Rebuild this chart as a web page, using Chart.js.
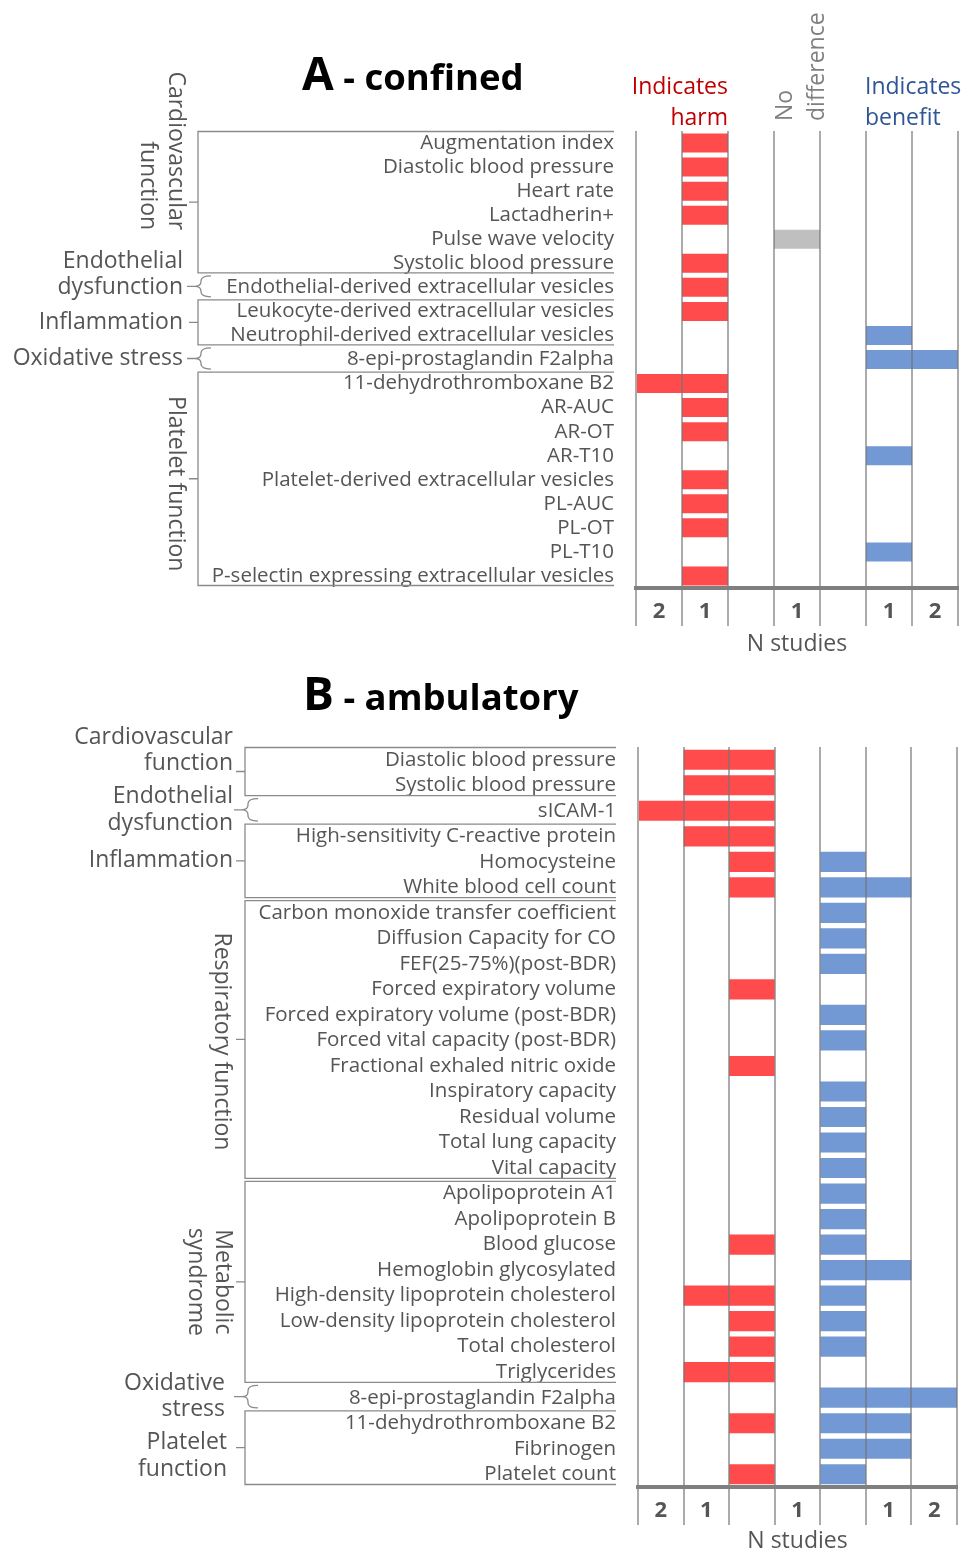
<!DOCTYPE html>
<html>
<head>
<meta charset="utf-8">
<script src="https://cdn.jsdelivr.net/npm/chart.js@4.4.0/dist/chart.umd.min.js"></script>
<style>
  html, body { margin: 0; padding: 0; background: #fff; }
  #wrap { position: relative; width: 965px; height: 1555px; }
  canvas { position: absolute; left: 0; }
</style>
</head>
<body>
<div id="wrap">
  <canvas id="chartA" width="965" height="660" style="top:0"></canvas>
  <canvas id="chartB" width="965" height="895" style="top:660px"></canvas>
</div>
<script>
// ---- data: A - confined ----
const markersA = ['Augmentation index', 'Diastolic blood pressure', 'Heart rate', 'Lactadherin+',
  'Pulse wave velocity', 'Systolic blood pressure', 'Endothelial-derived extracellular vesicles',
  'Leukocyte-derived extracellular vesicles', 'Neutrophil-derived extracellular vesicles',
  '8-epi-prostaglandin F2alpha', '11-dehydrothromboxane B2', 'AR-AUC', 'AR-OT', 'AR-T10',
  'Platelet-derived extracellular vesicles', 'PL-AUC', 'PL-OT', 'PL-T10',
  'P-selectin expressing extracellular vesicles'];
const harmA    = [1, 1, 1, 1, 0, 1, 1, 1, 0, 0, 2, 1, 1, 0, 1, 1, 1, 0, 1];
const noDiffA  = [0, 0, 0, 0, 1, 0, 0, 0, 0, 0, 0, 0, 0, 0, 0, 0, 0, 0, 0];
const benefitA = [0, 0, 0, 0, 0, 0, 0, 0, 1, 2, 0, 0, 0, 1, 0, 0, 0, 1, 0];
const groupsA = [
  { name: ['Cardiovascular', 'function'], rows: [0, 5] },
  { name: ['Endothelial', 'dysfunction'], rows: [6, 6] },
  { name: ['Inflammation'], rows: [7, 8] },
  { name: ['Oxidative stress'], rows: [9, 9] },
  { name: ['Platelet function'], rows: [10, 18] },
];

// ---- data: B - ambulatory ----
const markersB = ['Diastolic blood pressure', 'Systolic blood pressure', 'sICAM-1',
  'High-sensitivity C-reactive protein', 'Homocysteine', 'White blood cell count',
  'Carbon monoxide transfer coefficient', 'Diffusion Capacity for CO', 'FEF(25-75%)(post-BDR)',
  'Forced expiratory volume', 'Forced expiratory volume (post-BDR)', 'Forced vital capacity (post-BDR)',
  'Fractional exhaled nitric oxide', 'Inspiratory capacity', 'Residual volume', 'Total lung capacity',
  'Vital capacity', 'Apolipoprotein A1', 'Apolipoprotein B', 'Blood glucose', 'Hemoglobin glycosylated',
  'High-density lipoprotein cholesterol', 'Low-density lipoprotein cholesterol', 'Total cholesterol',
  'Triglycerides', '8-epi-prostaglandin F2alpha', '11-dehydrothromboxane B2', 'Fibrinogen', 'Platelet count'];
const harmB    = [2, 2, 3, 2, 1, 1, 0, 0, 0, 1, 0, 0, 1, 0, 0, 0, 0, 0, 0, 1, 0, 2, 1, 1, 2, 0, 1, 0, 1];
const noDiffB  = [0, 0, 0, 0, 0, 0, 0, 0, 0, 0, 0, 0, 0, 0, 0, 0, 0, 0, 0, 0, 0, 0, 0, 0, 0, 0, 0, 0, 0];
const benefitB = [0, 0, 0, 0, 1, 2, 1, 1, 1, 0, 1, 1, 0, 1, 1, 1, 1, 1, 1, 1, 2, 1, 1, 1, 0, 3, 2, 2, 1];
const groupsB = [
  { name: ['Cardiovascular', 'function'], rows: [0, 1] },
  { name: ['Endothelial', 'dysfunction'], rows: [2, 2] },
  { name: ['Inflammation'], rows: [3, 5] },
  { name: ['Respiratory function'], rows: [6, 16] },
  { name: ['Metabolic', 'syndrome'], rows: [17, 24] },
  { name: ['Oxidative', 'stress'], rows: [25, 25] },
  { name: ['Platelet', 'function'], rows: [26, 28] },
];

const nStudyTicks = ['2', '1', '', '1', '', '1', '2'];
const headerHarm = ['Indicates', 'harm'];
const headerNoDiff = ['No', 'difference'];
const headerBenefit = ['Indicates', 'benefit'];

// ---- styles ----
const FONT = "'Open Sans', sans-serif";
const TEXT = '#555555';
const LINE = '#8a8a8a';
const RED = '#ff4b4b';
const BLUE = '#7399d4';
const GREY = '#bfbfbf';
const LABEL_SIZE = 20.5;
const GROUP_SIZE = 23;

function buildDatasets(harm, noDiff, benefit, pos) {
  const common = { grouped: false, barPercentage: 0.79, categoryPercentage: 1, borderWidth: 0 };
  return [
    { label: 'Indicates harm', backgroundColor: RED, ...common,
      data: harm.map(n => n ? [pos.harmEnd - n, pos.harmEnd] : null) },
    { label: 'No difference', backgroundColor: GREY, ...common,
      data: noDiff.map(n => n ? [pos.noDiffStart, pos.noDiffStart + n] : null) },
    { label: 'Indicates benefit', backgroundColor: BLUE, ...common,
      data: benefit.map(n => n ? [pos.benefitStart, pos.benefitStart + n] : null) },
  ];
}

function drawGroups(ctx, y, groups, lay) {
  const step = y.getPixelForValue(1) - y.getPixelForValue(0);
  const boxRight = y.right - 22;
  const L = lay.boxLeft;
  ctx.save();
  ctx.strokeStyle = LINE;
  ctx.lineWidth = 1.3;
  groups.forEach((g, i) => {
    const top = y.getPixelForValue(g.rows[0]) - step / 2 + 0.5;
    const bot = y.getPixelForValue(g.rows[1]) + step / 2 - 2.5;
    const mid = (top + bot) / 2;
    ctx.beginPath();
    if (g.rows[0] === g.rows[1]) {
      // curly brace for single-row groups
      const xm = L + 3, xr = L + 13, r = 5;
      ctx.moveTo(xr, top);
      ctx.quadraticCurveTo(xm, top, xm, top + r);
      ctx.lineTo(xm, mid - r);
      ctx.quadraticCurveTo(xm, mid, L - 3, mid);
      ctx.quadraticCurveTo(xm, mid, xm, mid + r);
      ctx.lineTo(xm, bot - r);
      ctx.quadraticCurveTo(xm, bot, xr, bot);
      ctx.moveTo(L - 3, mid);
      ctx.lineTo(L - 11, mid);
    } else {
      ctx.moveTo(boxRight, top);
      ctx.lineTo(L, top);
      ctx.lineTo(L, bot);
      ctx.lineTo(boxRight, bot);
      ctx.moveTo(L, mid);
      ctx.lineTo(L - 9, mid);
    }
    ctx.stroke();

    const o = lay.labels[i] || {};
    ctx.fillStyle = TEXT;
    ctx.font = `${GROUP_SIZE}px ${FONT}`;
    ctx.textBaseline = 'middle';
    if (o.rotate) {
      o.xs.forEach((lx, k) => {
        ctx.save();
        ctx.translate(lx, mid + (o.dy || 0));
        ctx.rotate(Math.PI / 2);
        ctx.textAlign = o.align || 'center';
        ctx.fillText(g.name[k], 0, 0);
        ctx.restore();
      });
    } else {
      ctx.textAlign = 'right';
      const n = g.name.length;
      g.name.forEach((t, k) => {
        ctx.fillText(t, L - lay.gap + (o.dx || 0), mid + (o.dy || 0) + (k - (n - 1) / 2) * 26.5);
      });
    }
  });
  ctx.restore();
}

function drawTitle(ctx, letter, rest, x, base) {
  ctx.save();
  ctx.fillStyle = '#000';
  ctx.textBaseline = 'alphabetic';
  ctx.textAlign = 'left';
  ctx.font = `bold 46px ${FONT}`;
  ctx.fillText(letter, x, base);
  const w = ctx.measureText(letter).width;
  ctx.font = `bold 36.5px ${FONT}`;
  ctx.fillText(rest, x + w, base);
  ctx.restore();
}

function decorPlugin(groups, lay, title, withHeader) {
  return {
    id: 'decor',
    afterDraw(chart) {
      const { ctx, scales: { x, y } } = chart;
      drawGroups(ctx, y, groups, lay);
      drawTitle(ctx, title[0], title[1], title[2], title[3]);
      if (!withHeader) return;
      ctx.save();
      ctx.font = `23px ${FONT}`;
      ctx.textBaseline = 'middle';
      ctx.fillStyle = '#c00000';
      ctx.textAlign = 'right';
      headerHarm.forEach((t, k) => ctx.fillText(t, x.getPixelForValue(2), 87 + k * 31));
      ctx.fillStyle = '#2f5597';
      ctx.textAlign = 'left';
      headerBenefit.forEach((t, k) => ctx.fillText(t, x.getPixelForValue(5) - 1, 87 + k * 31));
      ctx.fillStyle = '#7f7f7f';
      headerNoDiff.forEach((t, k) => {
        ctx.save();
        ctx.translate(x.getPixelForValue(3.25 + k * 0.7), 121);
        ctx.rotate(-Math.PI / 2);
        ctx.fillText(t, 0, 0);
        ctx.restore();
      });
      ctx.restore();
    }
  };
}

function makeChart(id, markers, datasets, geo, plugin) {
  return new Chart(document.getElementById(id), {
    type: 'bar',
    data: { labels: markers, datasets: datasets },
    options: {
      indexAxis: 'y',
      responsive: false,
      animation: false,
      layout: { padding: { top: geo.top, right: geo.right, bottom: 0, left: 0 } },
      plugins: { legend: { display: false }, tooltip: { enabled: false } },
      scales: {
        y: {
          type: 'category',
          afterFit: s => { s.width = geo.left; },
          grid: { display: false, drawTicks: false },
          border: { display: false },
          ticks: { autoSkip: false, color: TEXT, padding: 22, font: { family: FONT, size: LABEL_SIZE } }
        },
        x: {
          type: 'linear',
          min: 0,
          max: 7,
          afterFit: s => { s.height = geo.xHeight; },
          grid: {
            z: 1,
            lineWidth: 2,
            tickLength: geo.tick,
            color: c => (c.tick && Number.isInteger(c.tick.value)) ? 'rgba(115,115,115,0.6)' : 'rgba(0,0,0,0)'
          },
          border: { display: true, color: '#7f7f7f', width: 4, z: 2 },
          ticks: {
            stepSize: 0.5,
            autoSkip: false,
            maxRotation: 0,
            padding: -27,
            color: TEXT,
            font: { family: FONT, size: 22, weight: 'bold' },
            callback: v => Number.isInteger(v) ? '' : nStudyTicks[Math.floor(v)]
          },
          title: {
            display: true,
            text: 'N studies',
            color: TEXT,
            font: { family: FONT, size: 23 },
            padding: { top: 0, bottom: geo.titlePad }
          }
        }
      }
    },
    plugins: [plugin]
  });
}

makeChart('chartA', markersA,
  buildDatasets(harmA, noDiffA, benefitA, { harmEnd: 2, noDiffStart: 3, benefitStart: 5 }),
  { top: 131, right: 7, left: 636, xHeight: 72, tick: 38, titlePad: 2 },
  decorPlugin(groupsA, {
    boxLeft: 198, gap: 15,
    labels: [
      { rotate: true, xs: [176, 148], align: 'right', dy: 28 },
      { dy: -12 },
      {},
      {},
      { rotate: true, xs: [176], dy: 5 }
    ]
  }, ['A', ' - confined', 302, 90], true));

makeChart('chartB', markersB,
  buildDatasets(harmB, noDiffB, benefitB, { harmEnd: 3, noDiffStart: 3, benefitStart: 4 }),
  { top: 87, right: 8, left: 638, xHeight: 68, tick: 38, titlePad: 0 },
  decorPlugin(groupsB, {
    boxLeft: 245, gap: 12,
    labels: [
      { dy: -21 },
      {},
      {},
      { rotate: true, xs: [222], dy: 2 },
      { rotate: true, xs: [223, 196] },
      { dx: -8 },
      { dy: 8, dx: -6 }
    ]
  }, ['B', ' - ambulatory', 303, 50], false));
</script>
</body>
</html>
